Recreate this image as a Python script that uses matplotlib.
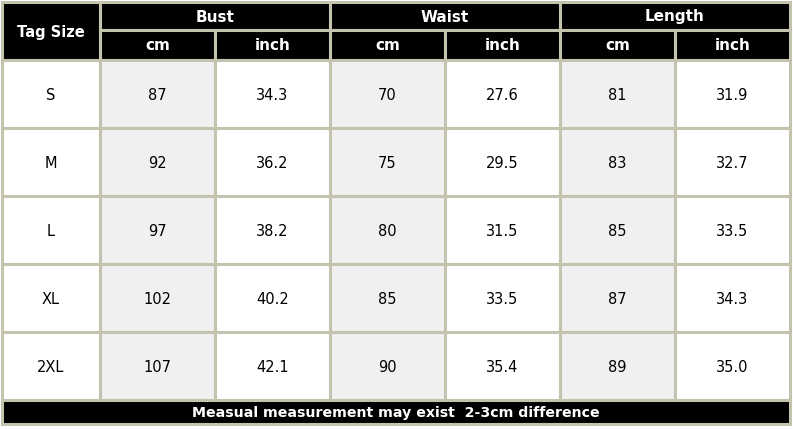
import matplotlib.pyplot as plt
from matplotlib.patches import Rectangle

sizes = ["S", "M", "L", "XL", "2XL"]
groups = ["Bust", "Waist", "Length"]
units = ["cm", "inch"]
bust_cm = ["87", "92", "97", "102", "107"]
bust_inch = ["34.3", "36.2", "38.2", "40.2", "42.1"]
waist_cm = ["70", "75", "80", "85", "90"]
waist_inch = ["27.6", "29.5", "31.5", "33.5", "35.4"]
length_cm = ["81", "83", "85", "87", "89"]
length_inch = ["31.9", "32.7", "33.5", "34.3", "35.0"]
footer = "Measual measurement may exist  2-3cm difference"

W, H = 793, 429
fig = plt.figure(figsize=(W / 100, H / 100), dpi=100)
ax = fig.add_axes([0, 0, 1, 1])
ax.set_xlim(0, W)
ax.set_ylim(H, 0)
ax.axis("off")

border = "#c4c4ae"
lw = 2.2
col_x = [2, 100, 215, 330, 445, 560, 675, 790]
row_y = [60, 128, 196, 264, 332, 400]
hdr_y = [2, 30, 60]
foot_y = [400, 424]


def cell(x0, x1, y0, y1, fc, text="", color="black", bold=False, size=10.5):
    ax.add_patch(Rectangle((x0, y0), x1 - x0, y1 - y0, facecolor=fc,
                           edgecolor=border, linewidth=lw))
    if text:
        ax.text((x0 + x1) / 2, (y0 + y1) / 2 + 1, text, ha="center", va="center",
                color=color, fontsize=size, fontweight="bold" if bold else "normal",
                family="DejaVu Sans")


# header
cell(col_x[0], col_x[1], hdr_y[0], hdr_y[2], "black", "Tag Size", "white", True, 10.5)
for g, name in enumerate(groups):
    x0 = col_x[1 + 2 * g]
    x1 = col_x[3 + 2 * g]
    cell(x0, x1, hdr_y[0], hdr_y[1], "black", name, "white", True, 11)
    for u, unit in enumerate(units):
        cell(col_x[1 + 2 * g + u], col_x[2 + 2 * g + u], hdr_y[1], hdr_y[2],
             "black", unit, "white", True, 11)

# body
columns = [bust_cm, bust_inch, waist_cm, waist_inch, length_cm, length_inch]
for r, s in enumerate(sizes):
    y0, y1 = row_y[r], row_y[r + 1]
    cell(col_x[0], col_x[1], y0, y1, "white", s)
    for c, vals in enumerate(columns):
        fc = "#f0f0f0" if c % 2 == 0 else "white"
        cell(col_x[c + 1], col_x[c + 2], y0, y1, fc, vals[r])

# footer
cell(col_x[0], col_x[-1], foot_y[0], foot_y[1], "black", footer, "white", True, 10.2)

fig.savefig("out.png", dpi=100)
